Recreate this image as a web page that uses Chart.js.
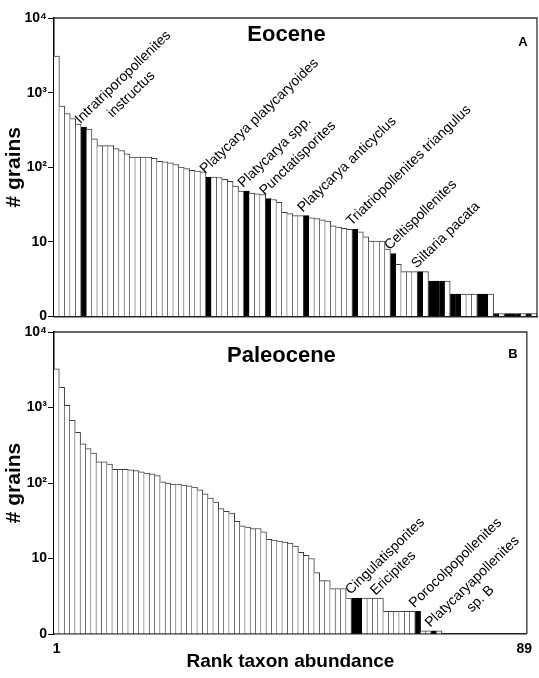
<!DOCTYPE html>
<html>
<head>
<meta charset="utf-8">
<script src="https://cdn.jsdelivr.net/npm/chart.js@4.4.1/dist/chart.umd.min.js"></script>
<style>
  body { margin: 0; background: #fff; }
  #wrap { position: relative; width: 539px; height: 678px; }
  canvas { position: absolute; left: 0; }
</style>
</head>
<body>
<div id="wrap">
  <canvas id="paleoChart" width="539" height="366" style="top:312px"></canvas>
  <canvas id="eoChart" width="539" height="326" style="top:0px"></canvas>
</div>
<script>
// rank 1..89 on the x axis
const ranks = Array.from({ length: 89 }, (_, i) => String(i + 1));
const tickLabels = ['0', '10', '10²', '10³', '10⁴'];

// number of grains per taxon, in rank order
const eoceneCounts = [
  3100, 660, 525, 450, 380, 345, 325, 240, 195, 195,
  195, 178, 168, 152, 137, 137, 137, 137, 132, 120,
  118, 115, 109, 101, 96, 91, 89, 87, 74, 74,
  73, 69, 65, 56, 48, 48, 45, 44, 43, 38,
  37, 34, 25, 24, 22.5, 22.5, 22.5, 21, 20.5, 19.8,
  19, 16.5, 15.8, 15.2, 14.8, 14.8, 13.7, 11.7, 10.3, 10.3,
  10.3, 8, 7, 5, 4, 4, 4, 4, 4, 3,
  3, 3, 3, 2, 2, 2, 2, 2, 2, 2,
  2, 1.1, 1.1, 1.1, 1.1, 1.1, 1.1, 1.1, 1.1
];
const paleoceneCounts = [
  3240, 1850, 1070, 675, 468, 330, 285, 250, 190, 190,
  178, 152, 152, 152, 150, 146, 141, 135, 132, 125,
  104, 100, 97, 97, 94, 92, 88, 81, 72, 63,
  56, 46, 42, 40, 31, 27, 26, 25, 25, 22.5,
  18, 17.5, 17, 16.5, 16, 14.6, 12.1, 11, 10, 6.5,
  5.1, 5.1, 4, 4, 4, 3, 3, 3, 3, 3,
  3, 3, 2, 2, 2, 2, 2, 2, 2, 1.1,
  1.1, 1.1, 1.1
];

// ranks drawn as black bars
const eoceneBlack = [6, 29, 36, 40, 47, 56, 63, 68, 70, 71, 72, 74, 75, 79, 80, 82, 84, 85, 86, 88];
const paleoceneBlack = [57, 58, 69, 72];

// taxon names written above a bar
const eoceneNames = [
  { rank: 6, text: ['Intratriporopollenites', 'instructus'] },
  { rank: 29, text: ['Platycarya platycaryoides'] },
  { rank: 36, text: ['Platycarya spp.'] },
  { rank: 40, text: ['Punctatisporites'] },
  { rank: 47, text: ['Platycarya anticyclus'] },
  { rank: 56, text: ['Triatriopollenites triangulus'] },
  { rank: 63, text: ['Celtispollenites'] },
  { rank: 68, text: ['Siltaria pacata'] }
];
const paleoceneNames = [
  { rank: 57, text: ['Cingulatisporites', 'Ericipites'] },
  { rank: 69, text: ['Porocolpopollenites'] },
  { rank: 72, text: ['Platycaryapollenites', 'sp. B'] }
];

const family = '"Liberation Sans", Arial, Helvetica, sans-serif';
Chart.defaults.font.family = family;
Chart.defaults.color = '#000';

const panelPlugin = {
  id: 'panel',
  afterDatasetsDraw(chart, args, opts) {
    const ctx = chart.ctx;
    const a = chart.chartArea;
    ctx.save();
    // box top and right
    ctx.strokeStyle = '#333';
    ctx.lineWidth = 1.3;
    ctx.beginPath();
    ctx.moveTo(a.left, a.top);
    ctx.lineTo(a.right, a.top);
    ctx.lineTo(a.right, a.bottom);
    ctx.stroke();

    ctx.fillStyle = '#000';
    ctx.textBaseline = 'alphabetic';
    ctx.textAlign = 'center';
    ctx.font = 'bold 22px ' + family;
    ctx.fillText(opts.title, (a.left + a.right) / 2 - 9, a.top + opts.titleY);
    ctx.font = 'bold 13px ' + family;
    ctx.fillText(opts.letter, a.right - 14, a.top + opts.letterY);

    // names, rotated
    const bars = chart.getDatasetMeta(0).data;
    ctx.font = '14px ' + family;
    opts.names.forEach(n => {
      const bar = bars[n.rank - 1];
      ctx.save();
      ctx.translate(bar.x - bar.width / 2 - 1, bar.y - 3);
      ctx.rotate(-44 * Math.PI / 180);
      ctx.textAlign = 'left';
      ctx.fillText(n.text[0], 0, 0);
      const w = ctx.measureText(n.text[0]).width;
      ctx.textAlign = 'center';
      for (let i = 1; i < n.text.length; i++) {
        ctx.fillText(n.text[i], w / 2 - 6, i * 18);
      }
      ctx.restore();
    });
    ctx.restore();
  }
};

makeChart = function (id, counts, black, names, panel, bottom) {
  return new Chart(document.getElementById(id), {
    type: 'bar',
    data: {
      labels: ranks,
      datasets: [{
        data: counts.map(v => Math.log10(v)),
        backgroundColor: c => black.includes(c.dataIndex + 1) ? '#000' : '#fff',
        borderColor: c => black.includes(c.dataIndex + 1) ? '#000' : '#3c3c3c',
        // bars fall with rank, so a right edge plus top is enough
        borderWidth: { top: 1, left: 0, bottom: 0, right: 1 },
        barPercentage: 1,
        categoryPercentage: 1
      }]
    },
    options: {
      responsive: false,
      animation: false,
      layout: { padding: { top: bottom ? 20 : 18, right: 2, left: 0, bottom: 0 } },
      plugins: {
        legend: { display: false },
        tooltip: { enabled: false },
        panel: Object.assign({ names: names }, panel)
      },
      scales: {
        x: {
          grid: { display: false, drawTicks: false },
          border: { color: '#222', width: 1.5 },
          ticks: bottom ? {
            autoSkip: false,
            maxRotation: 0,
            padding: 7,
            font: { size: 14, weight: 'bold' },
            callback: (v, i) => (i === 0 || i === ranks.length - 1) ? ranks[i] : ''
          } : { display: false },
          title: bottom ? {
            display: true,
            text: 'Rank taxon abundance',
            font: { size: 19, weight: 'bold' },
            padding: { top: 0, bottom: 5 }
          } : { display: false },
          afterFit: s => { s.height = bottom ? 44 : 8; }
        },
        y: {
          min: 0,
          max: 4,
          ticks: {
            stepSize: 1,
            padding: 1,
            font: { size: 14, weight: 'bold' },
            callback: v => tickLabels[v]
          },
          grid: { drawOnChartArea: false, tickLength: 6, tickColor: '#000' },
          border: { color: '#000', width: 1.5 },
          title: {
            display: true,
            text: '# grains',
            font: { size: 21, weight: 'bold' },
            padding: { top: 2, bottom: 0 }
          },
          afterFit: s => { s.width = 54; }
        }
      }
    },
    plugins: [panelPlugin]
  });
}

makeChart('eoChart', eoceneCounts, eoceneBlack, eoceneNames,
  { title: 'Eocene', letter: 'A', titleY: 23, letterY: 28 }, false);
makeChart('paleoChart', paleoceneCounts, paleoceneBlack, paleoceneNames,
  { title: 'Paleocene', letter: 'B', titleY: 30, letterY: 26 }, true);
</script>
</body>
</html>
